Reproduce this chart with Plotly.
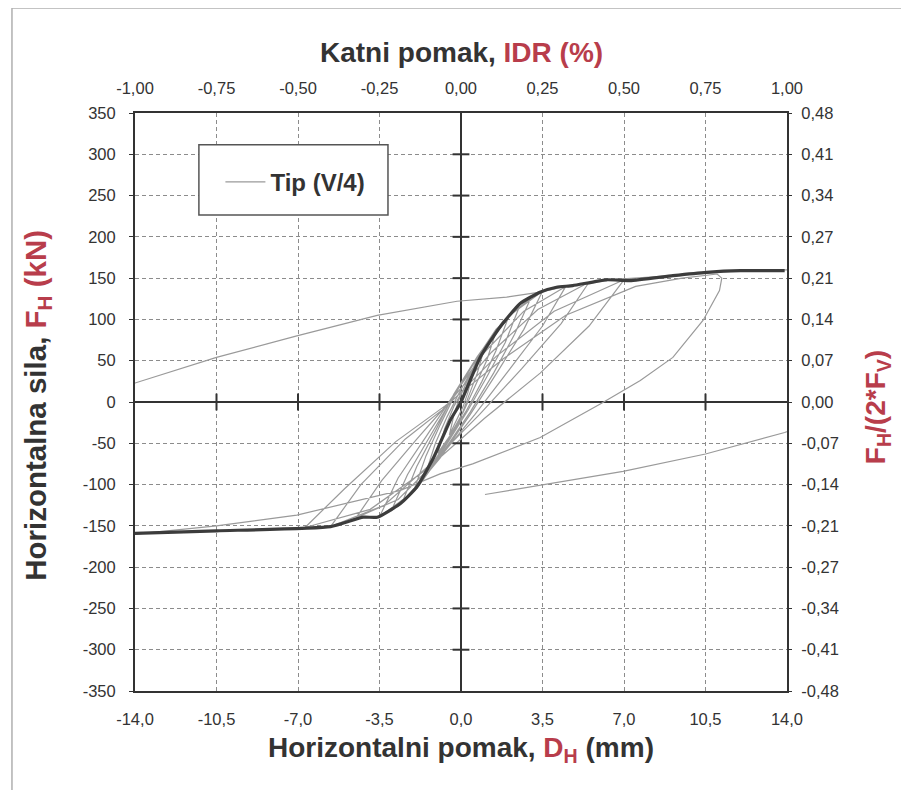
import plotly.graph_objects as go

# tick labels
x_ticks = [-14.0, -10.5, -7.0, -3.5, 0.0, 3.5, 7.0, 10.5, 14.0]
x_ticktext = ["-14,0", "-10,5", "-7,0", "-3,5", "0,0", "3,5", "7,0", "10,5", "14,0"]
idr_ticks = [-1.0, -0.75, -0.5, -0.25, 0.0, 0.25, 0.5, 0.75, 1.0]
idr_ticktext = ["-1,00", "-0,75", "-0,50", "-0,25", "0,00", "0,25", "0,50", "0,75", "1,00"]
y_ticks = [-350, -300, -250, -200, -150, -100, -50, 0, 50, 100, 150, 200, 250, 300, 350]
ratio_ticktext = ["-0,48", "-0,41", "-0,34", "-0,27", "-0,21", "-0,14", "-0,07", "0,00",
                  "0,07", "0,14", "0,21", "0,27", "0,34", "0,41", "0,48"]

# hysteresis response, Tip (V/4): displacement (mm) and force (kN)
hyst_x = [0, 0.25, 0.5, 0.3, 0.1, -0.2, -0.5, -0.3, -0.1,
          0.3, 0.7, 1.0, 0.7, 0.3, 0.0, -0.5, -1.0, -0.7, -0.3,
          0.1, 0.6, 1.1, 1.5, 1.1, 0.6, 0.1, -0.5, -1.0, -1.5, -1.1, -0.6,
          -0.1, 0.6, 1.3, 2.0, 1.5, 0.9, 0.2, -0.6, -1.3, -2.0, -1.5, -0.9,
          -0.2, 0.6, 1.5, 2.5, 1.9, 1.1, 0.3, -0.7, -1.6, -2.5, -1.9, -1.1,
          -0.3, 0.7, 1.8, 3.0, 2.3, 1.4, 0.4, -0.8, -1.9, -3.0, -2.3, -1.3,
          -0.3, 0.8, 2.1, 3.5, 2.7, 1.6, 0.4, -0.9, -2.2, -3.5, -2.7, -1.5,
          -0.4, 1.0, 2.7, 4.5, 3.5, 2.1, 0.6, -1.0, -2.7, -4.5, -3.4, -1.9,
          -0.5, 1.3, 3.3, 5.5, 4.3, 2.6, 0.8, -1.3, -3.3, -5.6, -4.3, -2.4,
          -0.6, 1.5, 4.0, 7.0, 5.5, 3.4, 1.0, -1.5, -3.9, -6.7, -5.0, -2.8,
          -0.7, 1.8, 4.5, 7.5, 9.5, 11.0, 11.2, 11.1, 10.4, 9.1, 7.7, 6.0, 3.4, 0.5, -0.9,
          -2.6, -7.05, -10.5, -14.0, -17.0,
          -16.5, -15.5, -14.0, -10.5, -7.05, -3.6, -0.17, 1.96, 3.4, 4.5, 6.3, 9.1, 12.0, 14.0, 17.0,
          16.5, 15.5, 13.9, 10.5, 6.96, 3.4, 1.03]
hyst_y = [0, 20, 35, 12, -5, -22, -40, -15, 2,
          28, 52, 65, 35, 5, -18, -42, -62, -32, -5,
          15, 45, 70, 85, 50, 18, -12, -42, -65, -85, -50, -18,
          10, 45, 78, 100, 62, 25, -12, -48, -80, -105, -65, -28,
          12, 50, 88, 115, 72, 30, -10, -55, -92, -120, -78, -35,
          10, 55, 98, 126, 82, 35, -12, -62, -105, -132, -88, -40,
          8, 58, 105, 134, 88, 38, -15, -68, -112, -139, -92, -42,
          5, 60, 110, 140, 92, 40, -15, -70, -118, -140, -95, -45,
          0, 60, 112, 145, 95, 40, -15, -75, -125, -151, -100, -45,
          -5, 55, 110, 148, 92, 35, -20, -82, -130, -152, -105, -48,
          -5, 52, 105, 140, 150, 155, 150, 135, 99, 54, 26, -2, -43, -75, -87,
          -107, -137, -150, -160, -165,
          -60, 0, 23, 54, 80, 105, 122, 127, 133, 140, 148, 153, 159, 160, 162,
          60, -20, -37, -63, -84, -101, -112]

# envelope (backbone) curve
env_x = [-14.0, -10.5, -5.6, -4.2, -3.6, -2.6, -1.9, -1.17, -0.46, 0.0, 0.82, 1.67, 2.53,
         3.39, 4.1, 4.8, 6.25, 7.25, 9.1, 10.55, 12.0, 13.9]
env_y = [-159, -156, -151, -139.5, -139.5, -123, -103, -67, -22, 0, 54, 90.6, 119,
         133, 139, 141, 148, 147, 153, 157, 159, 159]

red = "#b83d4b"
dark = "#333333"
font = "Liberation Sans, Arial, sans-serif"

fig = go.Figure()

fig.add_trace(go.Scatter(x=hyst_x, y=hyst_y, mode="lines", name="<b>Tip (V/4)</b>",
                         line=dict(color="#9a9a9a", width=1.2)))
fig.add_trace(go.Scatter(x=env_x, y=env_y, mode="lines", showlegend=False,
                         line=dict(color="#3c3c3c", width=3.2, shape="spline", smoothing=0.5)))

# tick marks on the zero lines
inner_x = [v for v in x_ticks if v not in (0.0, -14.0, 14.0)]
inner_y = [v for v in y_ticks if v not in (0, -350, 350)]
fig.add_trace(go.Scatter(x=inner_x, y=[0] * len(inner_x), mode="markers", showlegend=False,
                         hoverinfo="skip",
                         marker=dict(symbol="line-ns", size=12, line=dict(color=dark, width=2))))
fig.add_trace(go.Scatter(x=[0] * len(inner_y), y=inner_y, mode="markers", showlegend=False,
                         hoverinfo="skip",
                         marker=dict(symbol="line-ew", size=12, line=dict(color=dark, width=2))))

# invisible trace to activate the secondary axes
fig.add_trace(go.Scatter(x=[idr_ticks[0], idr_ticks[-1]], y=[y_ticks[0], y_ticks[-1]],
                         xaxis="x2", yaxis="y2", mode="lines", opacity=0,
                         showlegend=False, hoverinfo="skip"))

grid = dict(showgrid=True, gridcolor="#8c8c8c", gridwidth=1, griddash="4px,3px")

fig.update_layout(
    width=909, height=790, autosize=False,
    margin=dict(l=127, r=130, t=105, b=107),
    paper_bgcolor="white", plot_bgcolor="white",
    font=dict(family=font, size=16.5, color=dark),
    xaxis=dict(range=[-14, 14], tickvals=x_ticks, ticktext=x_ticktext,
               showline=True, linecolor=dark, linewidth=2, mirror=True,
               zeroline=True, zerolinecolor=dark, zerolinewidth=2,
               ticks="", ticklabelstandoff=12, **grid),
    yaxis=dict(range=[-350, 350], tickvals=y_ticks, ticktext=[str(v) for v in y_ticks],
               showline=True, linecolor=dark, linewidth=2, mirror=True,
               zeroline=True, zerolinecolor=dark, zerolinewidth=2,
               ticks="outside", ticklen=4, tickcolor=dark, ticklabelstandoff=10, **grid),
    xaxis2=dict(overlaying="x", side="top", range=[-1, 1], tickvals=idr_ticks,
                ticktext=idr_ticktext, showgrid=False, zeroline=False, showline=False,
                ticks="", ticklabelstandoff=15),
    yaxis2=dict(overlaying="y", side="right", range=[-350, 350], tickvals=y_ticks,
                ticktext=ratio_ticktext, showgrid=False, zeroline=False, showline=False,
                ticks="outside", ticklen=4, tickcolor=dark, ticklabelstandoff=6),
    legend=dict(x=0.131, y=0.88, xanchor="left", yanchor="middle",
                bgcolor="rgba(0,0,0,0)", borderwidth=0,
                font=dict(family=font, size=24, color=dark), itemwidth=40),
    showlegend=True,
)

# legend box and outer frame
fig.add_shape(type="rect", xref="paper", yref="paper", x0=0.098, x1=0.388, y0=0.8235, y1=0.945,
              line=dict(color="#555555", width=1.5), fillcolor="white", layer="above")
fig.add_shape(type="rect", xref="paper", yref="paper", x0=-0.1887, x1=1.2, y0=-0.2, y1=1.1817,
              line=dict(color="#b0b0b0", width=1.5), fillcolor="rgba(0,0,0,0)", layer="below")

# axis titles
fig.add_annotation(x=0.5, y=1.1055, xref="paper", yref="paper", showarrow=False,
                   xanchor="center", yanchor="middle",
                   text="<b>Katni pomak, <span style='color:%s'>IDR (%%)</span></b>" % red,
                   font=dict(family=font, size=28, color=dark))
fig.add_annotation(x=0.5, y=-0.102, xref="paper", yref="paper", showarrow=False,
                   xanchor="center", yanchor="middle",
                   text="<b>Horizontalni pomak, <span style='color:%s'>D<sub>H</sub></span> (mm)</b>" % red,
                   font=dict(family=font, size=28, color=dark))
fig.add_annotation(x=-0.1488, y=0.495, xref="paper", yref="paper", showarrow=False,
                   xanchor="center", yanchor="middle", textangle=-90,
                   text="<b>Horizontalna sila, <span style='color:%s'>F<sub>H</sub> (kN)</span></b>" % red,
                   font=dict(family=font, size=29.5, color=dark))
fig.add_annotation(x=1.138, y=0.491, xref="paper", yref="paper", showarrow=False,
                   xanchor="center", yanchor="middle", textangle=-90,
                   text="<b>F<sub>H</sub>/(2*F<sub>V</sub>)</b>",
                   font=dict(family=font, size=28, color=red))

fig.write_html("out.html")
